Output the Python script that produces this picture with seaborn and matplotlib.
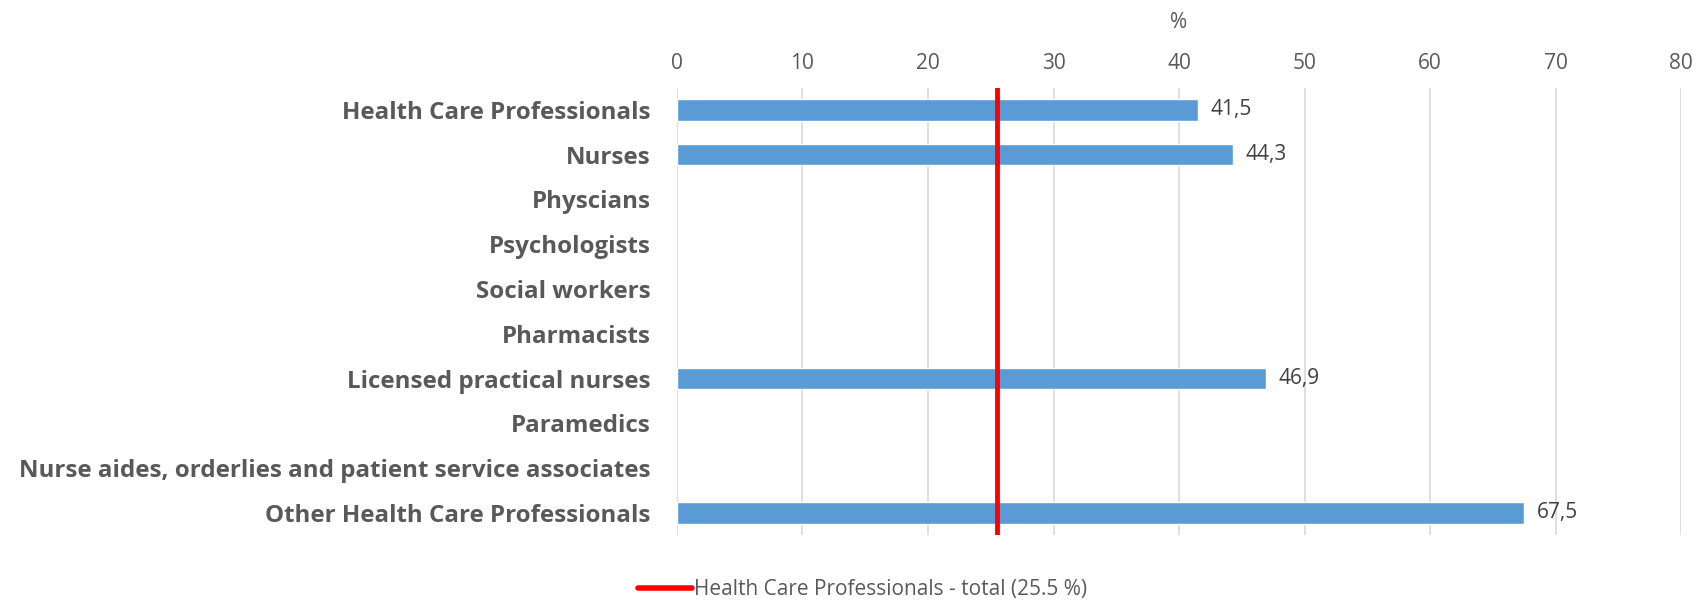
import numpy as np
import pandas as pd
import matplotlib
matplotlib.use("Agg")
from matplotlib import pyplot as plt
from matplotlib.lines import Line2D
import seaborn as sns

categories = [
    "Health Care Professionals",
    "Nurses",
    "Physcians",
    "Psychologists",
    "Social workers",
    "Pharmacists",
    "Licensed practical nurses",
    "Paramedics",
    "Nurse aides, orderlies and patient service associates",
    "Other Health Care Professionals",
]
values = [41.5, 44.3, np.nan, np.nan, np.nan, np.nan, 46.9, np.nan, np.nan, 67.5]
total_value = 25.5
total_label = "Health Care Professionals - total (25.5 %)"
x_ticks = [0, 10, 20, 30, 40, 50, 60, 70, 80]


def main():
    sns.set_style("white")
    plt.rcParams["font.family"] = ["Open Sans", "DejaVu Sans"]

    df = pd.DataFrame({"category": categories, "value": values})

    fig = plt.figure(figsize=(16.98, 6), dpi=100)
    ax = fig.add_axes([0.3987, 0.108, 0.5913, 0.746])

    sns.barplot(data=df.dropna(), x="value", y="category", order=categories,
                orient="h", color="#5B9BD5", saturation=1, width=0.48, ax=ax)

    # data labels with comma decimals
    for i, v in enumerate(values):
        if not np.isnan(v):
            ax.text(v + 1.0, i, f"{v:.1f}".replace(".", ","), va="center", ha="left",
                    fontsize=15, color="#404040")

    ax.axvline(total_value, color="#FF0000", linewidth=3.5, zorder=5)

    ax.set_xlim(0, 80)
    ax.set_ylim(len(categories) - 0.5, -0.5)
    ax.set_xticks(x_ticks)
    ax.xaxis.tick_top()
    ax.xaxis.set_label_position("top")
    ax.set_xlabel("%", fontsize=15, color="#595959", labelpad=18)
    ax.set_ylabel("")
    ax.tick_params(axis="x", length=0, labelsize=15, labelcolor="#595959", pad=10)
    ax.tick_params(axis="y", length=0, pad=19)
    for lab in ax.get_yticklabels():
        lab.set_fontweight("bold")
        lab.set_fontsize(17.4)
        lab.set_color("#595959")

    ax.grid(axis="x", color="#D9D9D9", linewidth=1.2)
    ax.set_axisbelow(True)
    for s in ["top", "right", "bottom", "left"]:
        ax.spines[s].set_visible(False)

    handle = Line2D([0], [0], color="#FF0000", linewidth=4, solid_capstyle="round")
    fig.legend([handle], [total_label], loc="lower center", bbox_to_anchor=(0.508, -0.032),
               frameon=False, fontsize=15, labelcolor="#595959", handlelength=2.6,
               handletextpad=0.1)

    fig.savefig("out.png", dpi=100)


if __name__ == "__main__":
    main()
